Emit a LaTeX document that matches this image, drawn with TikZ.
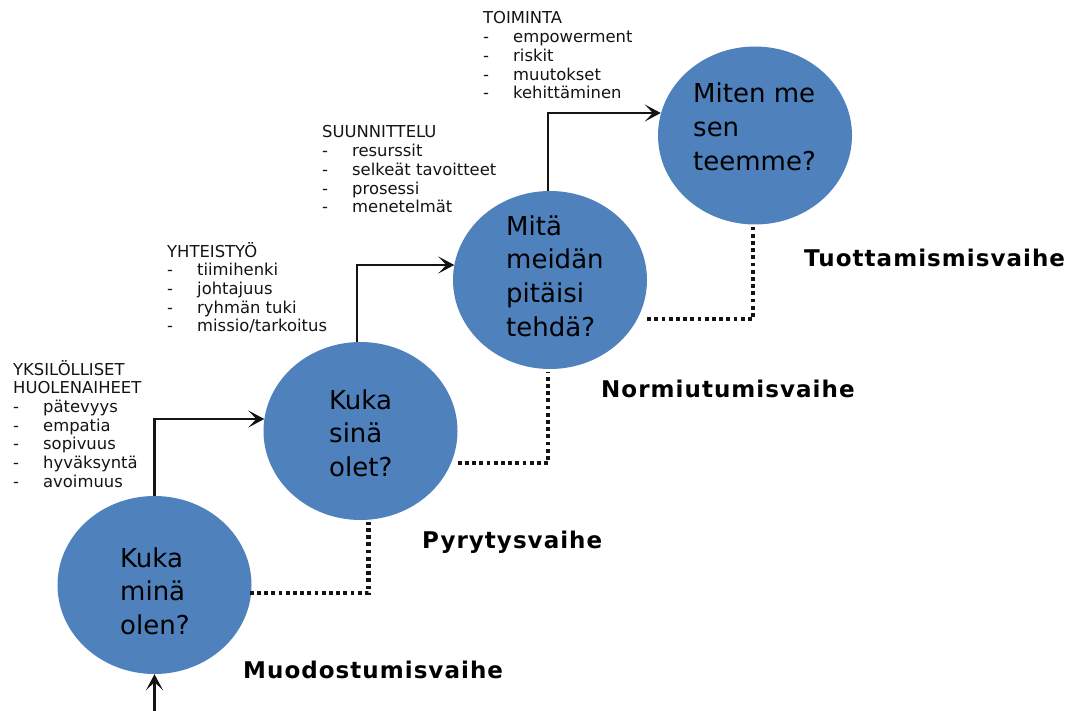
\documentclass[tikz,border=0pt]{standalone}
\usepackage{fontspec}
\setmainfont{DejaVu Sans}
\newfontfamily\phasefont[LetterSpace=4.5]{DejaVu Sans}
\usetikzlibrary{shapes.geometric,arrows.meta}

\definecolor{bubbleblue}{RGB}{79,129,189}
\definecolor{inkdark}{RGB}{20,20,20}

\tikzset{
  bubble/.style={ellipse, minimum width=194pt, minimum height=178pt,
    inner sep=0pt, fill=bubbleblue, draw=none},
  % multi-line nodes: the base anchor sits on the last line
  question/.style={anchor=base west, inner sep=0pt, align=left,
    font=\fontsize{26}{33.7}\selectfont, text=black},
  topiclist/.style={anchor=base west, inner sep=0pt, align=left,
    font=\fontsize{16.4}{18.7}\selectfont, text=inkdark},
  phase/.style={anchor=base west, inner sep=0pt,
    font=\phasefont\bfseries\fontsize{23}{27}\selectfont, text=black},
  steparrow/.style={draw=inkdark, line width=2.6pt,
    -{Stealth[length=16pt,width=17pt,inset=8pt]}},
  dotlink/.style={draw=inkdark, line width=4.2pt,
    dash pattern=on 3.8pt off 3.4pt},
}
\newcommand{\itm}[1]{\makebox[30pt][l]{-}#1}

\begin{document}
\begin{tikzpicture}[x=1pt, y=-1pt]
\useasboundingbox (0,0) rectangle (1078,711);

% the four stages
\node[bubble] (c1) at (154.5,585) {};
\node[bubble] (c2) at (360.5,431) {};
\node[bubble] (c3) at (550,280) {};
\node[bubble] (c4) at (755,135.5) {};

\node[question] (q1) at (120,634.4) {Kuka\\minä\\olen?};
\node[question] (q2) at (329,476.4) {Kuka\\sinä\\olet?};
\node[question] (q3) at (506,336.1) {Mitä\\meidän\\pitäisi\\tehdä?};
\node[question] (q4) at (693,170.4) {Miten me\\sen\\teemme?};

% topics of each stage
\node[topiclist] (t1) at (13,487.2) {YKSILÖLLISET\\HUOLENAIHEET\\\itm{pätevyys}\\\itm{empatia}\\\itm{sopivuus}\\\itm{hyväksyntä}\\\itm{avoimuus}};
\node[topiclist] (t2) at (167,331.8) {YHTEISTYÖ\\\itm{tiimihenki}\\\itm{johtajuus}\\\itm{ryhmän tuki}\\\itm{missio/tarkoitus}};
\node[topiclist] (t3) at (322,212.8) {SUUNNITTELU\\\itm{resurssit}\\\itm{selkeät tavoitteet}\\\itm{prosessi}\\\itm{menetelmät}};
\node[topiclist] (t4) at (483,98.8) {TOIMINTA\\\itm{empowerment}\\\itm{riskit}\\\itm{muutokset}\\\itm{kehittäminen}};

% stage names
\node[phase] (p1) at (243,678) {Muodostumisvaihe};
\node[phase] (p2) at (422,548) {Pyrytysvaihe};
\node[phase] (p3) at (601,397) {Normiutumisvaihe};
\node[phase] (p4) at (804,266) {Tuottamismisvaihe};

% progression arrows
\coordinate (entry) at (154.5,711);
\draw[steparrow] (entry) -- (c1.south);
\draw[steparrow] (c1.north) |- ([yshift=12pt,xshift=1pt]c2.west);
\draw[steparrow] ([xshift=-3.5pt]c2.north) |- ([yshift=15pt,xshift=1.5pt]c3.west);
\draw[steparrow] ([xshift=-2pt]c3.north) |- ([yshift=22.5pt,xshift=3pt]c4.west);

% dotted steps
\draw[dotlink] ([yshift=-8pt,xshift=-2pt]c1.east) -| ([xshift=8pt,yshift=-2pt]c2.south);
\draw[dotlink] ([yshift=-32pt]c2.east) -| ([xshift=-2pt,yshift=-3pt]c3.south);
\draw[dotlink] ([yshift=-39pt]c3.east) -| ([xshift=-2pt,yshift=-2pt]c4.south);
\end{tikzpicture}
\end{document}
